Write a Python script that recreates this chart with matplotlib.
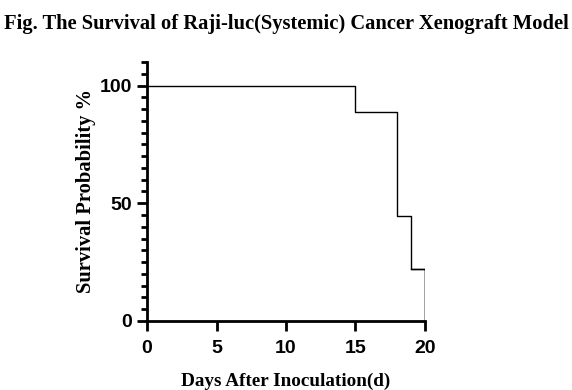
import matplotlib
matplotlib.use('Agg')
from matplotlib import pyplot
import matplotlib.ticker as ticker

days = [0, 15, 18, 19, 20]
survival = [100, 88.9, 44.4, 22.2, 0]

fig = pyplot.figure(figsize=(5.72, 3.90), dpi=100)
ax = fig.add_axes([0.257, 0.177, 0.486, 0.664])

# Kaplan-Meier style step curve
ax.step(days, survival, where='post', color='black', linewidth=1.0)
ax.plot([days[-2], days[-1]], [survival[-2], survival[-2]], color='black', linewidth=1.0)
ax.plot([days[-1], days[-1]], [survival[-2], survival[-1]], color='black', linewidth=1.0)

ax.set_xlim(0, 20)
ax.set_ylim(0, 110)
ax.spines['top'].set_visible(False)
ax.spines['right'].set_visible(False)
for s in ['left', 'bottom']:
    ax.spines[s].set_linewidth(2)

ax.xaxis.set_major_locator(ticker.MultipleLocator(5))
ax.yaxis.set_major_locator(ticker.FixedLocator([0, 50, 100]))
ax.yaxis.set_minor_locator(ticker.MultipleLocator(5))
ax.tick_params(which='major', length=7, width=2, direction='out')
ax.tick_params(which='minor', length=4, width=2, direction='out')
ax.tick_params(axis='x', which='minor', length=0)
ax.tick_params(axis='x', which='major', pad=7)

for lab in ax.get_xticklabels() + ax.get_yticklabels():
    lab.set_fontfamily('Liberation Sans')
    lab.set_fontweight('bold')
    lab.set_fontsize(14)

serif = {'family': 'Liberation Serif', 'weight': 'bold'}
ax.set_xlabel('Days After Inoculation(d)', fontdict=serif, fontsize=13.8, labelpad=11)
ax.set_ylabel('Survival Probability %', fontdict=serif, fontsize=14.8, labelpad=3)
fig.text(0.5, 0.938, 'Fig. The Survival of Raji-luc(Systemic) Cancer Xenograft Model',
         ha='center', va='center', fontfamily='Liberation Serif', fontweight='bold', fontsize=14.8)

fig.savefig('out.png')
